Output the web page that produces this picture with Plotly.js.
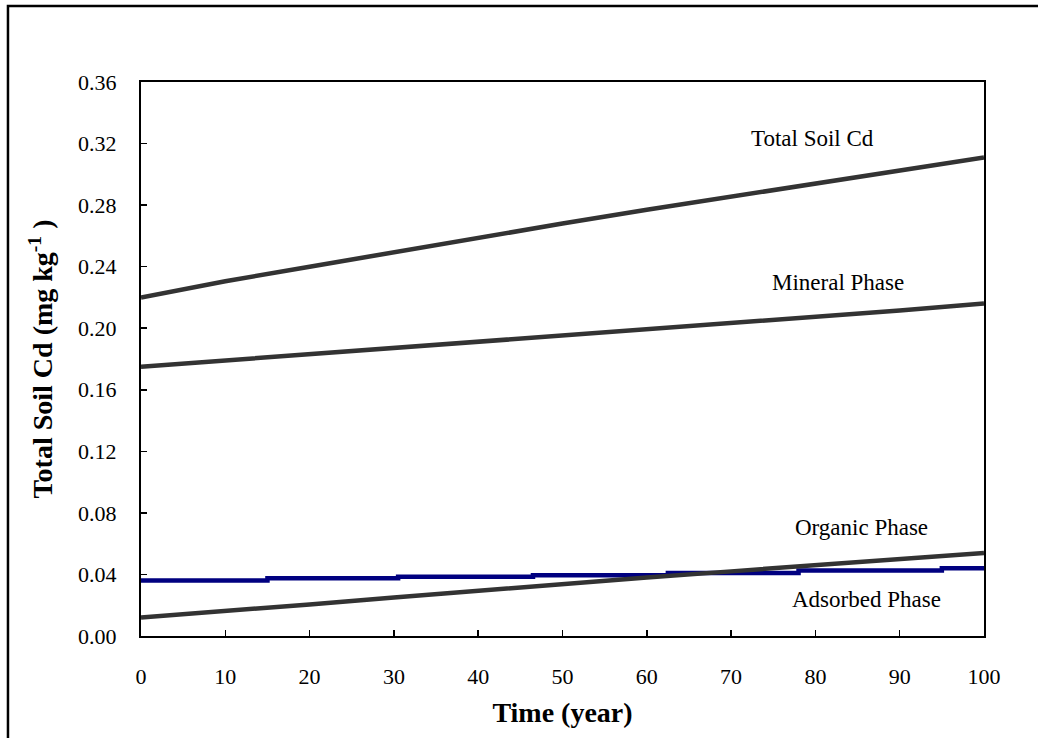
<!DOCTYPE html>
<html>
<head>
<meta charset="utf-8">
<script src="https://cdn.plot.ly/plotly-3.0.1.min.js"></script>
<style>html,body{margin:0;padding:0;background:#fff;}#chart{width:1038px;height:738px;}</style>
</head>
<body>
<div id="chart"></div>
<script>
// Data
const years = [0, 10, 20, 30, 40, 50, 60, 70, 80, 90, 100];
const totalSoilCd = [0.220, 0.2305, 0.240, 0.2495, 0.259, 0.268, 0.277, 0.2855, 0.294, 0.3025, 0.311];
const mineralPhase = [0.175, 0.179, 0.183, 0.187, 0.191, 0.195, 0.199, 0.203, 0.207, 0.2115, 0.216];
const organicPhase = [0.012, 0.016, 0.0205, 0.025, 0.0295, 0.034, 0.038, 0.042, 0.046, 0.050, 0.054];
// Adsorbed phase is a step series; steps read at these years
const adsorbedYears = [0, 15, 30.5, 46.5, 62.5, 78, 95, 100];
const adsorbedPhase = [0.036, 0.0375, 0.0385, 0.0395, 0.041, 0.0425, 0.044, 0.044];
const xTicks = [0, 10, 20, 30, 40, 50, 60, 70, 80, 90, 100];
const yTicks = [0, 0.04, 0.08, 0.12, 0.16, 0.20, 0.24, 0.28, 0.32, 0.36];
const labels = [
  {text: 'Total Soil Cd', x: 79.6, y: 0.3236},
  {text: 'Mineral Phase', x: 82.7, y: 0.2294},
  {text: 'Organic Phase', x: 85.5, y: 0.0708},
  {text: 'Adsorbed Phase', x: 86.1, y: 0.024}
];

const serif = '"Liberation Serif", "Times New Roman", serif';
const gray = '#333333';
const navy = '#000080';

const traces = [
  {x: years, y: totalSoilCd, mode: 'lines', line: {color: gray, width: 4.5}, name: 'Total Soil Cd'},
  {x: years, y: mineralPhase, mode: 'lines', line: {color: gray, width: 4.5}, name: 'Mineral Phase'},
  {x: adsorbedYears, y: adsorbedPhase, mode: 'lines', line: {color: navy, width: 4.5, shape: 'hv'}, name: 'Adsorbed Phase'},
  {x: years, y: organicPhase, mode: 'lines', line: {color: gray, width: 4.5}, name: 'Organic Phase'}
];

const layout = {
  width: 1038, height: 738,
  margin: {l: 141, r: 54, t: 82, b: 102},
  paper_bgcolor: '#fff', plot_bgcolor: '#fff',
  showlegend: false,
  font: {family: serif, color: '#000', size: 22},
  xaxis: {
    range: [0, 100], tickvals: xTicks, ticktext: xTicks.map(String),
    ticks: 'inside', ticklen: 6, tickwidth: 1.5, tickcolor: '#000',
    showline: true, linecolor: '#000', linewidth: 2, mirror: true,
    showgrid: false, zeroline: false,
    tickfont: {family: serif, size: 22, color: '#000'},
    ticklabelstandoff: 20,
    title: {text: '<b>Time (year)</b>', font: {family: serif, size: 28, color: '#000'}, standoff: 14}
  },
  yaxis: {
    range: [0, 0.36], tickvals: yTicks, ticktext: yTicks.map(v => v.toFixed(2)),
    ticks: 'inside', ticklen: 6, tickwidth: 1.5, tickcolor: '#000',
    showline: true, linecolor: '#000', linewidth: 2, mirror: true,
    showgrid: false, zeroline: false,
    tickfont: {family: serif, size: 22, color: '#000'},
    ticklabelstandoff: 18,
    title: {text: '<b>Total Soil Cd (mg kg<sup>-1</sup> )</b>', font: {family: serif, size: 28, color: '#000'}, standoff: 17}
  },
  annotations: labels.map(l => ({
    text: l.text, x: l.x, y: l.y, xref: 'x', yref: 'y', showarrow: false,
    font: {family: serif, size: 23, color: '#000'}
  })),
  shapes: [{
    type: 'rect', xref: 'paper', yref: 'paper',
    x0: -0.1578, x1: 1.08, y0: -0.2, y1: 1.137,
    line: {color: '#000', width: 2.5}, fillcolor: 'rgba(0,0,0,0)', layer: 'below'
  }]
};

Plotly.newPlot('chart', traces, layout, {displayModeBar: false, staticPlot: true});
</script>
</body>
</html>
